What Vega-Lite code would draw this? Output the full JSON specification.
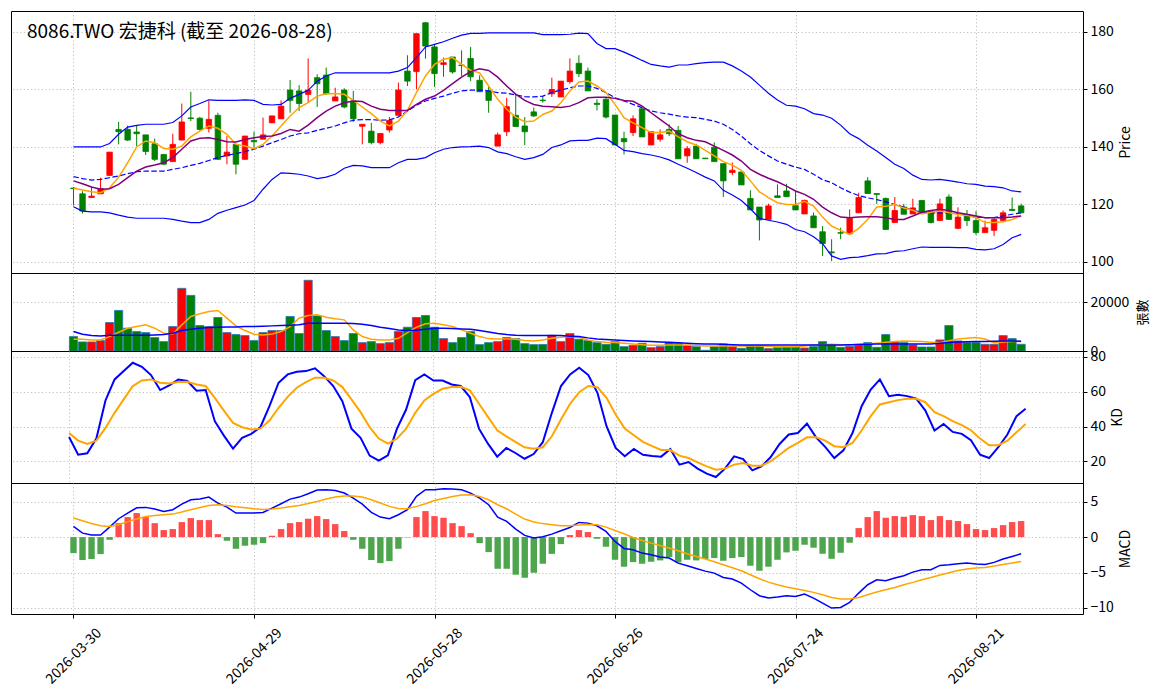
{
  "$schema": "https://vega.github.io/schema/vega-lite/v6.json",
  "background": "white",
  "padding": {"left": 10, "top": 10, "right": 0, "bottom": 0},
  "spacing": 0,
  "bounds": "flush",
  "datasets": {
    "d": [
      {"i":0,"o":125.6,"h":126.0,"l":119.5,"c":125.4,"m5":125.5,"m10":128.1,"m20":129.6,"bu":139.9,"bl":119.1,"v":5930,"v5":4830,"v20":8000,"k":34.0,"d":36.3,"dif":1.50,"sig":2.68,"osc":-2.26},
      {"i":1,"o":123.6,"h":124.5,"l":116.8,"c":117.6,"m5":124.9,"m10":127.1,"m20":128.9,"bu":139.9,"bl":117.6,"v":3720,"v5":4830,"v20":6900,"k":23.8,"d":31.9,"dif":0.56,"sig":2.30,"osc":-3.24},
      {"i":2,"o":122.3,"h":126.0,"l":122.3,"c":122.8,"m5":124.3,"m10":126.0,"m20":128.4,"bu":139.9,"bl":117.3,"v":3720,"v5":4550,"v20":6340,"k":24.6,"d":30.0,"dif":0.28,"sig":1.93,"osc":-3.10},
      {"i":3,"o":123.6,"h":129.2,"l":123.6,"c":125.4,"m5":124.0,"m10":125.2,"m20":128.6,"bu":139.9,"bl":117.3,"v":4280,"v5":4550,"v20":6200,"k":33.1,"d":31.9,"dif":0.28,"sig":1.60,"osc":-2.40},
      {"i":4,"o":130.0,"h":138.1,"l":130.0,"c":138.1,"m5":125.7,"m10":125.4,"m20":129.2,"bu":141.1,"bl":117.0,"v":11720,"v5":5930,"v20":6480,"k":55.0,"d":39.2,"dif":1.41,"sig":1.50,"osc":-0.38},
      {"i":5,"o":146.0,"h":148.6,"l":140.8,"c":145.2,"m5":129.4,"m10":126.9,"m20":129.8,"bu":144.3,"bl":116.2,"v":16690,"v5":7720,"v20":6480,"k":67.1,"d":47.9,"dif":2.59,"sig":1.74,"osc":1.97},
      {"i":6,"o":146.0,"h":147.3,"l":142.0,"c":142.3,"m5":134.4,"m10":129.2,"m20":130.6,"bu":146.8,"bl":115.5,"v":9380,"v5":9380,"v20":6480,"k":71.9,"d":55.6,"dif":3.39,"sig":2.16,"osc":2.82},
      {"i":7,"o":145.1,"h":147.2,"l":140.2,"c":144.5,"m5":139.9,"m10":131.5,"m20":131.3,"bu":147.4,"bl":115.1,"v":8000,"v5":10070,"v20":6480,"k":76.7,"d":63.3,"dif":4.14,"sig":2.54,"osc":3.39},
      {"i":8,"o":144.1,"h":144.1,"l":137.1,"c":138.3,"m5":142.0,"m10":132.9,"m20":131.5,"bu":147.8,"bl":115.1,"v":7580,"v5":10760,"v20":6480,"k":74.4,"d":66.5,"dif":4.19,"sig":2.91,"osc":2.82},
      {"i":9,"o":141.0,"h":142.8,"l":135.0,"c":135.6,"m5":141.4,"m10":133.6,"m20":131.5,"bu":147.8,"bl":115.1,"v":5520,"v5":9380,"v20":6620,"k":69.6,"d":67.1,"dif":3.95,"sig":3.06,"osc":1.97},
      {"i":10,"o":137.3,"h":137.3,"l":133.7,"c":133.9,"m5":139.4,"m10":134.4,"m20":131.5,"bu":147.8,"bl":115.1,"v":3860,"v5":7310,"v20":6760,"k":61.0,"d":65.2,"dif":3.62,"sig":3.15,"osc":0.99},
      {"i":11,"o":134.8,"h":144.5,"l":134.8,"c":140.8,"m5":139.1,"m10":136.2,"m20":132.1,"bu":148.4,"bl":114.7,"v":10070,"v5":7030,"v20":7310,"k":63.7,"d":64.8,"dif":3.86,"sig":3.24,"osc":1.13},
      {"i":12,"o":142.3,"h":155.0,"l":142.3,"c":148.6,"m5":140.2,"m10":139.1,"m20":132.7,"bu":150.7,"bl":114.1,"v":25790,"v5":10760,"v20":8410,"k":67.1,"d":65.6,"dif":4.65,"sig":3.53,"osc":2.12},
      {"i":13,"o":150.0,"h":159.1,"l":148.9,"c":149.8,"m5":143.4,"m10":142.0,"m20":133.5,"bu":153.8,"bl":113.6,"v":22890,"v5":14200,"v20":8960,"k":66.2,"d":65.8,"dif":5.27,"sig":3.86,"osc":2.68},
      {"i":14,"o":149.9,"h":150.4,"l":145.6,"c":146.0,"m5":145.4,"m10":142.9,"m20":134.2,"bu":155.0,"bl":113.6,"v":10480,"v5":15310,"v20":9380,"k":60.6,"d":64.2,"dif":5.36,"sig":4.18,"osc":2.40},
      {"i":15,"o":146.4,"h":156.1,"l":144.9,"c":149.5,"m5":147.2,"m10":143.1,"m20":135.2,"bu":156.3,"bl":114.7,"v":10070,"v5":16270,"v20":9650,"k":61.0,"d":63.3,"dif":5.64,"sig":4.47,"osc":2.40},
      {"i":16,"o":150.9,"h":151.8,"l":135.4,"c":135.6,"m5":146.4,"m10":142.5,"m20":136.2,"bu":156.1,"bl":116.8,"v":13790,"v5":16690,"v20":9790,"k":43.1,"d":56.5,"dif":4.80,"sig":4.56,"osc":0.42},
      {"i":17,"o":136.8,"h":143.7,"l":133.9,"c":138.1,"m5":144.3,"m10":141.7,"m20":137.0,"bu":156.1,"bl":117.9,"v":7580,"v5":13510,"v20":9860,"k":34.8,"d":49.2,"dif":4.23,"sig":4.47,"osc":-0.52},
      {"i":18,"o":140.8,"h":140.8,"l":130.4,"c":133.9,"m5":140.8,"m10":141.6,"m20":137.6,"bu":156.1,"bl":118.8,"v":6760,"v5":10340,"v20":9860,"k":27.3,"d":42.1,"dif":3.39,"sig":4.28,"osc":-1.65},
      {"i":19,"o":135.6,"h":143.7,"l":135.4,"c":143.7,"m5":140.2,"m10":142.5,"m20":138.3,"bu":156.3,"bl":119.7,"v":6340,"v5":8410,"v20":10070,"k":33.5,"d":39.6,"dif":3.39,"sig":4.14,"osc":-1.22},
      {"i":20,"o":142.2,"h":145.2,"l":139.1,"c":141.7,"m5":139.3,"m10":143.1,"m20":139.1,"bu":156.1,"bl":121.3,"v":4280,"v5":6900,"v20":10070,"k":35.8,"d":38.3,"dif":3.39,"sig":4.00,"osc":-1.08},
      {"i":21,"o":142.6,"h":150.1,"l":142.6,"c":144.1,"m5":140.8,"m10":143.5,"m20":140.2,"bu":154.7,"bl":125.2,"v":7580,"v5":6620,"v20":10200,"k":39.6,"d":38.8,"dif":3.48,"sig":3.90,"osc":-0.85},
      {"i":22,"o":148.3,"h":150.7,"l":148.3,"c":150.7,"m5":143.7,"m10":143.7,"m20":141.4,"bu":154.5,"bl":128.6,"v":8410,"v5":7030,"v20":10340,"k":51.7,"d":43.5,"dif":4.09,"sig":3.95,"osc":0.19},
      {"i":23,"o":149.7,"h":156.1,"l":149.7,"c":154.1,"m5":147.2,"m10":144.6,"m20":142.5,"bu":154.7,"bl":130.9,"v":8410,"v5":8000,"v20":10480,"k":65.2,"d":50.8,"dif":4.70,"sig":4.09,"osc":1.13},
      {"i":24,"o":159.7,"h":163.2,"l":151.8,"c":156.1,"m5":150.7,"m10":146.0,"m20":143.7,"bu":156.8,"bl":130.7,"v":14200,"v5":10070,"v20":10620,"k":70.0,"d":57.1,"dif":5.36,"sig":4.28,"osc":1.97},
      {"i":25,"o":159.4,"h":161.4,"l":152.4,"c":155.0,"m5":153.6,"m10":145.4,"m20":144.5,"bu":158.2,"bl":130.4,"v":7170,"v5":13510,"v20":10760,"k":71.5,"d":62.3,"dif":5.64,"sig":4.47,"osc":2.12},
      {"i":26,"o":158.2,"h":170.7,"l":155.3,"c":159.7,"m5":155.3,"m10":147.5,"m20":144.8,"bu":159.6,"bl":129.8,"v":29100,"v5":14620,"v20":11450,"k":71.9,"d":65.6,"dif":6.11,"sig":4.75,"osc":2.59},
      {"i":27,"o":164.0,"h":165.2,"l":153.8,"c":161.9,"m5":157.6,"m10":150.1,"m20":145.7,"bu":162.8,"bl":128.9,"v":14480,"v5":14890,"v20":11450,"k":73.5,"d":68.1,"dif":6.63,"sig":5.03,"osc":2.96},
      {"i":28,"o":164.9,"h":167.5,"l":158.0,"c":158.4,"m5":158.4,"m10":152.4,"m20":146.4,"bu":164.6,"bl":129.4,"v":8410,"v5":13930,"v20":11450,"k":69.0,"d":68.1,"dif":6.68,"sig":5.36,"osc":2.54},
      {"i":29,"o":155.9,"h":160.5,"l":155.9,"c":157.3,"m5":158.5,"m10":154.1,"m20":147.2,"bu":165.7,"bl":130.4,"v":5930,"v5":13240,"v20":11450,"k":63.3,"d":66.5,"dif":6.58,"sig":5.64,"osc":1.83},
      {"i":30,"o":159.7,"h":160.3,"l":153.3,"c":153.8,"m5":158.2,"m10":155.3,"m20":148.3,"bu":165.7,"bl":132.5,"v":4280,"v5":12820,"v20":11450,"k":54.6,"d":62.7,"dif":6.21,"sig":5.78,"osc":0.85},
      {"i":31,"o":155.9,"h":159.4,"l":148.6,"c":149.7,"m5":156.1,"m10":155.9,"m20":149.2,"bu":165.7,"bl":133.5,"v":7170,"v5":8690,"v20":11310,"k":38.8,"d":55.6,"dif":5.50,"sig":5.78,"osc":-0.38},
      {"i":32,"o":147.1,"h":147.8,"l":140.8,"c":147.8,"m5":153.8,"m10":155.7,"m20":149.4,"bu":165.7,"bl":133.3,"v":3450,"v5":5930,"v20":11030,"k":33.5,"d":48.3,"dif":4.65,"sig":5.64,"osc":-1.65},
      {"i":33,"o":145.4,"h":148.3,"l":140.8,"c":141.4,"m5":151.5,"m10":154.1,"m20":149.4,"bu":165.7,"bl":132.7,"v":3860,"v5":4830,"v20":10480,"k":23.3,"d":39.6,"dif":3.48,"sig":5.27,"osc":-3.24},
      {"i":34,"o":141.4,"h":144.6,"l":140.8,"c":144.6,"m5":148.9,"m10":153.0,"m20":149.2,"bu":165.7,"bl":132.7,"v":3030,"v5":4550,"v20":9790,"k":20.4,"d":33.1,"dif":2.82,"sig":4.80,"osc":-3.67},
      {"i":35,"o":145.8,"h":150.3,"l":144.9,"c":149.1,"m5":147.2,"m10":152.6,"m20":149.3,"bu":165.7,"bl":132.7,"v":3450,"v5":4550,"v20":9240,"k":23.5,"d":30.2,"dif":2.59,"sig":4.33,"osc":-3.39},
      {"i":36,"o":150.9,"h":162.3,"l":150.9,"c":159.7,"m5":148.9,"m10":152.6,"m20":150.3,"bu":166.3,"bl":134.4,"v":8000,"v5":5240,"v20":8690,"k":38.8,"d":33.1,"dif":3.15,"sig":4.04,"osc":-1.65},
      {"i":37,"o":166.3,"h":171.8,"l":161.1,"c":162.8,"m5":152.6,"m10":152.6,"m20":152.4,"bu":167.5,"bl":135.6,"v":9790,"v5":7580,"v20":8410,"k":49.8,"d":38.8,"dif":3.86,"sig":4.00,"osc":-0.05},
      {"i":38,"o":166.1,"h":179.3,"l":160.0,"c":179.3,"m5":158.8,"m10":154.7,"m20":154.4,"bu":171.0,"bl":135.6,"v":13790,"v5":9790,"v20":8550,"k":66.7,"d":47.9,"dif":5.74,"sig":4.33,"osc":2.82},
      {"i":39,"o":183.1,"h":183.4,"l":170.6,"c":175.0,"m5":164.6,"m10":156.5,"m20":155.9,"bu":174.7,"bl":136.2,"v":14620,"v5":11170,"v20":8960,"k":70.0,"d":55.0,"dif":6.68,"sig":4.70,"osc":3.67},
      {"i":40,"o":174.7,"h":175.6,"l":160.8,"c":165.4,"m5":168.6,"m10":157.6,"m20":156.8,"bu":175.6,"bl":137.9,"v":9790,"v5":11450,"v20":9380,"k":66.5,"d":58.8,"dif":6.68,"sig":5.17,"osc":2.96},
      {"i":41,"o":168.6,"h":171.0,"l":164.3,"c":169.2,"m5":170.4,"m10":159.6,"m20":157.6,"bu":176.5,"bl":139.1,"v":5100,"v5":10760,"v20":9380,"k":66.5,"d":61.7,"dif":6.82,"sig":5.45,"osc":2.73},
      {"i":42,"o":171.2,"h":171.2,"l":165.4,"c":166.0,"m5":171.0,"m10":161.9,"m20":158.6,"bu":177.7,"bl":139.7,"v":3450,"v5":10070,"v20":9240,"k":64.2,"d":62.7,"dif":6.77,"sig":5.74,"osc":1.97},
      {"i":43,"o":168.4,"h":173.5,"l":164.6,"c":168.2,"m5":168.6,"m10":164.2,"m20":159.4,"bu":178.8,"bl":139.9,"v":5520,"v5":8690,"v20":9100,"k":63.3,"d":62.9,"dif":6.68,"sig":5.92,"osc":1.55},
      {"i":44,"o":170.7,"h":174.7,"l":162.8,"c":164.3,"m5":166.6,"m10":166.1,"m20":159.7,"bu":179.4,"bl":140.0,"v":8000,"v5":7310,"v20":8960,"k":56.9,"d":60.8,"dif":6.21,"sig":5.97,"osc":0.56},
      {"i":45,"o":163.1,"h":164.8,"l":159.1,"c":159.1,"m5":165.7,"m10":167.1,"m20":159.7,"bu":179.4,"bl":140.2,"v":2620,"v5":5930,"v20":8410,"k":38.8,"d":53.1,"dif":5.50,"sig":5.74,"osc":-0.85},
      {"i":46,"o":159.4,"h":160.8,"l":151.8,"c":156.1,"m5":161.1,"m10":166.5,"m20":159.4,"bu":179.6,"bl":139.7,"v":3450,"v5":5100,"v20":7860,"k":30.0,"d":45.4,"dif":4.56,"sig":5.27,"osc":-2.12},
      {"i":47,"o":140.2,"h":144.9,"l":140.2,"c":144.1,"m5":156.5,"m10":164.2,"m20":158.8,"bu":179.6,"bl":138.2,"v":3860,"v5":4960,"v20":7170,"k":22.7,"d":37.9,"dif":2.82,"sig":4.56,"osc":-4.47},
      {"i":48,"o":145.2,"h":157.0,"l":143.7,"c":153.9,"m5":153.0,"m10":161.1,"m20":158.6,"bu":179.6,"bl":137.6,"v":5520,"v5":4960,"v20":6760,"k":27.7,"d":34.4,"dif":2.21,"sig":4.00,"osc":-4.47},
      {"i":49,"o":150.9,"h":158.4,"l":147.0,"c":147.0,"m5":150.3,"m10":158.3,"m20":158.0,"bu":179.6,"bl":136.5,"v":5100,"v5":4830,"v20":6480,"k":24.8,"d":31.2,"dif":1.13,"sig":3.24,"osc":-5.31},
      {"i":50,"o":147.2,"h":150.3,"l":140.5,"c":145.2,"m5":148.7,"m10":156.1,"m20":157.4,"bu":179.6,"bl":135.6,"v":3030,"v5":4280,"v20":6340,"k":21.5,"d":28.1,"dif":0.24,"sig":2.54,"osc":-5.74},
      {"i":51,"o":152.1,"h":153.6,"l":150.3,"c":150.7,"m5":148.9,"m10":154.7,"m20":157.3,"bu":179.6,"bl":136.2,"v":2620,"v5":4140,"v20":6340,"k":24.2,"d":27.3,"dif":-0.14,"sig":2.12,"osc":-5.03},
      {"i":52,"o":156.2,"h":157.6,"l":155.3,"c":156.0,"m5":151.2,"m10":154.1,"m20":157.6,"bu":179.0,"bl":137.3,"v":2690,"v5":4550,"v20":6340,"k":31.0,"d":28.1,"dif":0.05,"sig":1.90,"osc":-3.76},
      {"i":53,"o":158.4,"h":164.0,"l":157.3,"c":159.9,"m5":152.4,"m10":153.9,"m20":158.8,"bu":179.0,"bl":139.7,"v":6480,"v5":5240,"v20":6340,"k":47.9,"d":34.4,"dif":0.42,"sig":1.74,"osc":-2.37},
      {"i":54,"o":157.3,"h":162.8,"l":157.3,"c":162.8,"m5":155.3,"m10":153.6,"m20":159.7,"bu":179.0,"bl":140.6,"v":3860,"v5":5650,"v20":6340,"k":63.3,"d":44.0,"dif":0.89,"sig":1.60,"osc":-0.99},
      {"i":55,"o":162.6,"h":170.7,"l":161.9,"c":166.3,"m5":159.4,"m10":154.1,"m20":160.5,"bu":179.1,"bl":142.0,"v":7170,"v5":5930,"v20":6100,"k":70.0,"d":53.1,"dif":1.36,"sig":1.60,"osc":0.28},
      {"i":56,"o":169.0,"h":171.8,"l":164.2,"c":165.4,"m5":162.5,"m10":155.3,"m20":161.1,"bu":179.5,"bl":142.2,"v":4830,"v5":5650,"v20":5930,"k":73.8,"d":59.8,"dif":2.07,"sig":1.69,"osc":0.99},
      {"i":57,"o":166.3,"h":167.5,"l":159.4,"c":159.4,"m5":162.8,"m10":157.0,"m20":161.1,"bu":179.3,"bl":142.2,"v":4280,"v5":4550,"v20":5400,"k":69.6,"d":63.3,"dif":1.97,"sig":1.79,"osc":0.71},
      {"i":58,"o":155.1,"h":156.5,"l":152.6,"c":154.7,"m5":161.1,"m10":157.2,"m20":160.3,"bu":175.9,"bl":143.0,"v":3450,"v5":3860,"v20":4960,"k":59.4,"d":62.7,"dif":1.60,"sig":1.74,"osc":-0.24},
      {"i":59,"o":156.5,"h":157.3,"l":149.8,"c":150.3,"m5":158.8,"m10":157.2,"m20":158.8,"bu":174.1,"bl":142.8,"v":2760,"v5":3590,"v20":4750,"k":40.2,"d":56.5,"dif":0.80,"sig":1.41,"osc":-1.36},
      {"i":60,"o":151.0,"h":151.0,"l":140.6,"c":140.6,"m5":154.7,"m10":156.8,"m20":157.0,"bu":174.1,"bl":140.8,"v":3860,"v5":3450,"v20":4550,"k":27.7,"d":46.9,"dif":-0.61,"sig":0.94,"osc":-3.20},
      {"i":61,"o":142.8,"h":145.2,"l":137.3,"c":141.7,"m5":150.1,"m10":156.1,"m20":155.9,"bu":172.9,"bl":138.7,"v":1790,"v5":3170,"v20":4350,"k":22.9,"d":38.8,"dif":-1.60,"sig":0.47,"osc":-4.18},
      {"i":62,"o":144.9,"h":150.9,"l":143.7,"c":149.7,"m5":148.3,"m10":155.8,"m20":154.7,"bu":171.5,"bl":138.3,"v":2340,"v5":2900,"v20":4140,"k":27.1,"d":35.0,"dif":-1.79,"sig":-0.05,"osc":-3.53},
      {"i":63,"o":153.2,"h":153.2,"l":143.4,"c":143.4,"m5":146.6,"m10":154.1,"m20":153.6,"bu":170.0,"bl":137.6,"v":3170,"v5":2620,"v20":4000,"k":23.8,"d":31.2,"dif":-2.26,"sig":-0.47,"osc":-3.76},
      {"i":64,"o":140.6,"h":145.2,"l":140.6,"c":145.2,"m5":144.9,"m10":151.8,"m20":152.4,"bu":168.6,"bl":137.1,"v":1380,"v5":2340,"v20":3860,"k":23.1,"d":28.7,"dif":-2.49,"sig":-0.85,"osc":-3.48},
      {"i":65,"o":142.6,"h":146.0,"l":141.7,"c":144.1,"m5":144.9,"m10":149.5,"m20":151.8,"bu":168.1,"bl":136.4,"v":1790,"v5":2400,"v20":3720,"k":22.7,"d":26.5,"dif":-2.82,"sig":-1.18,"osc":-3.29},
      {"i":66,"o":146.0,"h":147.8,"l":143.7,"c":144.5,"m5":145.4,"m10":147.2,"m20":151.3,"bu":167.7,"bl":135.4,"v":3450,"v5":2480,"v20":3590,"k":27.1,"d":26.5,"dif":-2.96,"sig":-1.55,"osc":-2.82},
      {"i":67,"o":145.7,"h":147.2,"l":135.8,"c":135.8,"m5":143.4,"m10":144.5,"m20":150.7,"bu":168.4,"bl":133.9,"v":3170,"v5":2480,"v20":3380,"k":18.1,"d":23.3,"dif":-3.67,"sig":-1.93,"osc":-3.57},
      {"i":68,"o":136.8,"h":140.2,"l":134.4,"c":139.3,"m5":141.7,"m10":143.1,"m20":150.3,"bu":168.4,"bl":132.5,"v":2340,"v5":2480,"v20":3170,"k":19.6,"d":21.9,"dif":-4.04,"sig":-2.35,"osc":-3.20},
      {"i":69,"o":140.2,"h":141.0,"l":135.8,"c":135.8,"m5":140.6,"m10":142.2,"m20":150.1,"bu":168.9,"bl":131.0,"v":1790,"v5":2280,"v20":3030,"k":15.8,"d":19.4,"dif":-4.42,"sig":-2.73,"osc":-3.29},
      {"i":70,"o":136.0,"h":136.1,"l":135.7,"c":135.8,"m5":138.7,"m10":141.7,"m20":149.5,"bu":169.2,"bl":129.4,"v":300,"v5":2070,"v20":2900,"k":12.9,"d":17.1,"dif":-4.80,"sig":-3.10,"osc":-3.10},
      {"i":71,"o":139.8,"h":141.5,"l":134.8,"c":134.8,"m5":136.8,"m10":140.2,"m20":148.9,"bu":169.4,"bl":128.1,"v":1790,"v5":2070,"v20":2830,"k":11.0,"d":15.2,"dif":-5.08,"sig":-3.48,"osc":-2.96},
      {"i":72,"o":134.1,"h":134.1,"l":122.5,"c":128.1,"m5":134.8,"m10":138.7,"m20":147.8,"bu":169.4,"bl":124.8,"v":2900,"v5":2070,"v20":2760,"k":15.8,"d":15.8,"dif":-5.69,"sig":-3.90,"osc":-3.34},
      {"i":73,"o":131.0,"h":134.5,"l":130.1,"c":131.8,"m5":133.6,"m10":137.1,"m20":146.0,"bu":168.1,"bl":123.2,"v":1790,"v5":2070,"v20":2620,"k":22.9,"d":18.1,"dif":-5.92,"sig":-4.33,"osc":-2.96},
      {"i":74,"o":131.2,"h":131.2,"l":126.7,"c":126.7,"m5":131.8,"m10":135.0,"m20":143.7,"bu":166.3,"bl":121.3,"v":1100,"v5":2070,"v20":2480,"k":21.3,"d":19.0,"dif":-6.49,"sig":-4.75,"osc":-2.82},
      {"i":75,"o":122.0,"h":124.8,"l":118.0,"c":118.0,"m5":128.1,"m10":132.1,"m20":141.0,"bu":164.2,"bl":118.4,"v":2070,"v5":2070,"v20":2480,"k":14.8,"d":17.5,"dif":-7.43,"sig":-5.31,"osc":-4.04},
      {"i":76,"o":119.0,"h":119.0,"l":107.4,"c":114.5,"m5":124.3,"m10":130.4,"m20":138.7,"bu":161.4,"bl":115.1,"v":2070,"v5":2070,"v20":2480,"k":17.1,"d":17.5,"dif":-8.27,"sig":-5.88,"osc":-4.75},
      {"i":77,"o":114.7,"h":120.2,"l":114.7,"c":119.4,"m5":122.3,"m10":129.0,"m20":136.8,"bu":158.6,"bl":114.4,"v":970,"v5":1930,"v20":2480,"k":22.3,"d":20.0,"dif":-8.60,"sig":-6.35,"osc":-4.18},
      {"i":78,"o":122.9,"h":126.9,"l":122.3,"c":122.3,"m5":120.5,"m10":127.8,"m20":135.0,"bu":156.2,"bl":113.8,"v":1380,"v5":1790,"v20":2480,"k":30.0,"d":23.8,"dif":-8.46,"sig":-6.72,"osc":-3.20},
      {"i":79,"o":124.6,"h":127.1,"l":122.6,"c":122.6,"m5":119.9,"m10":126.3,"m20":133.9,"bu":154.4,"bl":113.0,"v":1650,"v5":1790,"v20":2480,"k":35.4,"d":27.7,"dif":-8.27,"sig":-7.05,"osc":-2.16},
      {"i":80,"o":119.5,"h":124.6,"l":118.0,"c":118.0,"m5":119.9,"m10":124.6,"m20":132.9,"bu":154.1,"bl":111.2,"v":1650,"v5":1790,"v20":2480,"k":36.3,"d":30.6,"dif":-8.37,"sig":-7.29,"osc":-1.93},
      {"i":81,"o":116.6,"h":121.6,"l":116.6,"c":121.3,"m5":121.0,"m10":123.4,"m20":132.1,"bu":153.2,"bl":110.4,"v":1240,"v5":2100,"v20":2480,"k":41.7,"d":33.8,"dif":-8.04,"sig":-7.52,"osc":-1.08},
      {"i":82,"o":115.9,"h":117.1,"l":111.8,"c":111.8,"m5":119.3,"m10":121.7,"m20":130.4,"bu":151.5,"bl":108.7,"v":1790,"v5":2480,"v20":2480,"k":33.8,"d":33.8,"dif":-8.60,"sig":-7.80,"osc":-1.50},
      {"i":83,"o":110.4,"h":112.4,"l":102.0,"c":106.3,"m5":115.5,"m10":119.0,"m20":128.5,"bu":151.0,"bl":106.3,"v":3860,"v5":2620,"v20":2480,"k":28.3,"d":31.9,"dif":-9.31,"sig":-8.13,"osc":-2.35},
      {"i":84,"o":103.4,"h":107.8,"l":100.2,"c":103.1,"m5":112.4,"m10":117.0,"m20":127.5,"bu":149.9,"bl":102.0,"v":2620,"v5":2760,"v20":2480,"k":21.9,"d":28.7,"dif":-10.01,"sig":-8.51,"osc":-3.06},
      {"i":85,"o":110.1,"h":111.8,"l":107.8,"c":109.9,"m5":110.9,"m10":115.5,"m20":125.7,"bu":147.5,"bl":100.8,"v":1520,"v5":2620,"v20":2480,"k":26.3,"d":28.1,"dif":-9.92,"sig":-8.74,"osc":-2.21},
      {"i":86,"o":109.7,"h":118.2,"l":109.7,"c":115.1,"m5":109.5,"m10":115.3,"m20":124.2,"bu":144.5,"bl":101.4,"v":1930,"v5":2480,"v20":2620,"k":36.3,"d":30.6,"dif":-9.21,"sig":-8.74,"osc":-0.80},
      {"i":87,"o":117.0,"h":124.0,"l":117.0,"c":122.3,"m5":111.6,"m10":115.5,"m20":123.0,"bu":142.8,"bl":101.6,"v":2760,"v5":2700,"v20":2690,"k":51.7,"d":37.7,"dif":-7.90,"sig":-8.51,"osc":1.27},
      {"i":88,"o":128.1,"h":129.4,"l":123.7,"c":123.7,"m5":114.7,"m10":115.6,"m20":122.2,"bu":140.5,"bl":102.1,"v":3450,"v5":2900,"v20":2760,"k":61.3,"d":46.0,"dif":-6.72,"sig":-8.13,"osc":2.82},
      {"i":89,"o":123.7,"h":123.8,"l":120.1,"c":123.4,"m5":119.0,"m10":115.6,"m20":121.6,"bu":138.5,"bl":102.7,"v":1520,"v5":3240,"v20":2830,"k":67.1,"d":52.7,"dif":-6.02,"sig":-7.76,"osc":3.67},
      {"i":90,"o":122.0,"h":122.3,"l":111.2,"c":111.2,"m5":119.3,"m10":115.3,"m20":120.8,"bu":136.2,"bl":102.8,"v":6760,"v5":3590,"v20":2900,"k":57.5,"d":54.0,"dif":-6.16,"sig":-7.43,"osc":2.73},
      {"i":91,"o":113.6,"h":122.5,"l":113.6,"c":117.8,"m5":119.9,"m10":114.7,"m20":119.9,"bu":133.9,"bl":103.6,"v":3860,"v5":3860,"v20":2900,"k":58.3,"d":55.2,"dif":-5.78,"sig":-7.10,"osc":2.96},
      {"i":92,"o":119.0,"h":120.1,"l":116.5,"c":116.5,"m5":118.7,"m10":114.7,"m20":119.0,"bu":132.4,"bl":103.8,"v":3450,"v5":4140,"v20":2900,"k":57.5,"d":56.0,"dif":-5.45,"sig":-6.72,"osc":2.87},
      {"i":93,"o":116.6,"h":121.9,"l":116.6,"c":118.7,"m5":117.9,"m10":115.9,"m20":117.8,"bu":130.1,"bl":104.5,"v":2480,"v5":4000,"v20":2900,"k":56.0,"d":56.0,"dif":-4.94,"sig":-6.39,"osc":3.10},
      {"i":94,"o":121.3,"h":121.3,"l":117.2,"c":117.2,"m5":116.6,"m10":117.2,"m20":117.3,"bu":128.6,"bl":105.1,"v":1650,"v5":3860,"v20":2900,"k":49.2,"d":54.0,"dif":-4.61,"sig":-6.02,"osc":2.96},
      {"i":95,"o":117.8,"h":117.8,"l":113.3,"c":113.6,"m5":117.2,"m10":117.8,"m20":117.0,"bu":128.4,"bl":105.0,"v":1650,"v5":3650,"v20":2900,"k":37.7,"d":48.3,"dif":-4.61,"sig":-5.69,"osc":2.40},
      {"i":96,"o":114.3,"h":121.9,"l":114.3,"c":120.1,"m5":117.6,"m10":118.2,"m20":117.0,"bu":128.6,"bl":105.0,"v":4550,"v5":3450,"v20":3170,"k":41.5,"d":46.0,"dif":-4.00,"sig":-5.36,"osc":2.96},
      {"i":97,"o":122.5,"h":123.4,"l":114.7,"c":114.7,"m5":117.0,"m10":117.8,"m20":116.8,"bu":128.2,"bl":105.0,"v":10480,"v5":4200,"v20":3450,"k":36.9,"d":43.1,"dif":-3.90,"sig":-5.03,"osc":2.40},
      {"i":98,"o":111.6,"h":118.9,"l":111.3,"c":115.5,"m5":116.5,"m10":117.0,"m20":116.7,"bu":127.7,"bl":104.9,"v":4140,"v5":4960,"v20":3720,"k":35.8,"d":40.8,"dif":-3.76,"sig":-4.70,"osc":2.26},
      {"i":99,"o":116.2,"h":118.0,"l":112.4,"c":114.3,"m5":116.1,"m10":116.5,"m20":116.2,"bu":127.1,"bl":104.9,"v":3450,"v5":5240,"v20":3790,"k":32.1,"d":37.9,"dif":-3.67,"sig":-4.51,"osc":1.83},
      {"i":100,"o":114.3,"h":117.6,"l":109.3,"c":110.1,"m5":115.3,"m10":115.9,"m20":115.5,"bu":126.9,"bl":104.3,"v":3450,"v5":5520,"v20":3860,"k":23.8,"d":33.1,"dif":-3.81,"sig":-4.37,"osc":1.13},
      {"i":101,"o":110.1,"h":114.3,"l":110.1,"c":111.8,"m5":113.6,"m10":115.3,"m20":115.3,"bu":126.3,"bl":104.1,"v":2760,"v5":4960,"v20":3930,"k":21.9,"d":29.2,"dif":-3.86,"sig":-4.28,"osc":0.99},
      {"i":102,"o":110.9,"h":115.1,"l":108.9,"c":114.7,"m5":113.6,"m10":115.3,"m20":115.3,"bu":126.1,"bl":104.5,"v":2760,"v5":3450,"v20":4000,"k":28.1,"d":29.2,"dif":-3.57,"sig":-4.09,"osc":1.27},
      {"i":103,"o":114.3,"h":117.8,"l":114.3,"c":117.0,"m5":113.9,"m10":115.3,"m20":115.9,"bu":125.7,"bl":106.0,"v":6340,"v5":3720,"v20":4070,"k":35.4,"d":31.9,"dif":-3.10,"sig":-3.86,"osc":1.69},
      {"i":104,"o":118.2,"h":122.3,"l":117.6,"c":117.8,"m5":114.7,"m10":115.5,"m20":116.5,"bu":124.6,"bl":108.3,"v":5100,"v5":3860,"v20":4140,"k":46.0,"d":36.7,"dif":-2.73,"sig":-3.67,"osc":2.12},
      {"i":105,"o":119.4,"h":120.2,"l":117.0,"c":117.0,"m5":115.9,"m10":115.9,"m20":117.0,"bu":124.3,"bl":109.5,"v":2760,"v5":3860,"v20":4000,"k":50.2,"d":41.5,"dif":-2.35,"sig":-3.43,"osc":2.26}
    ]
  },
  "data": {"name": "d"},
  "vconcat": [
    {
      "width": 1072,
      "height": 262,
      "title": {"text": "8086.TWO 宏捷科 (截至 2026-08-28)", "anchor": "start", "frame": "group", "orient": "top", "offset": -31, "dx": 16, "fontSize": 19, "fontWeight": "normal", "color": "black"},
      "encoding": {
        "x": {"field": "i", "type": "quantitative", "scale": {"domain": [-6.37, 111.3], "nice": false, "zero": false},
              "axis": {"values": [0, 20, 40, 60, 80, 100], "labels": false, "ticks": false, "domain": false, "title": null}}
      },
      "layer": [
        {"mark": {"type": "rule", "strokeWidth": 1},
         "encoding": {
           "y": {"field": "l", "type": "quantitative", "title": "Price", "scale": {"domain": [96.06, 187.19], "nice": false, "zero": false},
                 "axis": {"orient": "right", "values": [100, 120, 140, 160, 180]}},
           "y2": {"field": "h"},
           "color": {"condition": {"test": "datum.c >= datum.o", "value": "#ff0000"}, "value": "#008000"}}},
        {"mark": {"type": "bar", "width": 5.5, "strokeWidth": 0.8},
         "encoding": {
           "y": {"field": "o", "type": "quantitative", "title": "Price"},
           "y2": {"field": "c"},
           "color": {"condition": {"test": "datum.c >= datum.o", "value": "#ff0000"}, "value": "#008000"},
           "stroke": {"condition": {"test": "datum.c >= datum.o", "value": "#ff0000"}, "value": "#008000"}}},
        {"mark": {"type": "line", "color": "#0000ff", "strokeWidth": 1.2},
         "encoding": {"y": {"field": "bu", "type": "quantitative", "title": "Price"}}},
        {"mark": {"type": "line", "color": "#0000ff", "strokeWidth": 1.2},
         "encoding": {"y": {"field": "bl", "type": "quantitative", "title": "Price"}}},
        {"mark": {"type": "line", "color": "#0000ff", "strokeWidth": 1.2, "strokeDash": [5.5, 2.4]},
         "encoding": {"y": {"field": "m20", "type": "quantitative", "title": "Price"}}},
        {"mark": {"type": "line", "color": "#ffa500", "strokeWidth": 1.5},
         "encoding": {"y": {"field": "m5", "type": "quantitative", "title": "Price"}}},
        {"mark": {"type": "line", "color": "#800080", "strokeWidth": 1.5},
         "encoding": {"y": {"field": "m10", "type": "quantitative", "title": "Price"}}}
      ]
    },
    {
      "width": 1072,
      "height": 78,
      "encoding": {
        "x": {"field": "i", "type": "quantitative", "scale": {"domain": [-6.37, 111.3], "nice": false, "zero": false},
              "axis": {"values": [0, 20, 40, 60, 80, 100], "labels": false, "ticks": false, "domain": false, "title": null}}
      },
      "layer": [
        {"mark": {"type": "bar", "width": 8.2, "stroke": "#1f77b4", "strokeWidth": 0.8},
         "encoding": {
           "y": {"field": "v", "type": "quantitative", "title": "張數", "scale": {"domain": [0, 32100], "nice": false},
                 "axis": {"orient": "right", "values": [0, 20000], "format": "d", "titleFontSize": 13, "titlePadding": 8}},
           "y2": {"datum": 0},
           "color": {"condition": {"test": "datum.c >= datum.o", "value": "#ff0000"}, "value": "#008000"}}},
        {"mark": {"type": "line", "color": "#ffa500", "strokeWidth": 1.5},
         "encoding": {"y": {"field": "v5", "type": "quantitative", "title": "張數"}}},
        {"mark": {"type": "line", "color": "#0000ff", "strokeWidth": 1.5},
         "encoding": {"y": {"field": "v20", "type": "quantitative", "title": "張數"}}}
      ]
    },
    {
      "width": 1072,
      "height": 132,
      "encoding": {
        "x": {"field": "i", "type": "quantitative", "scale": {"domain": [-6.37, 111.3], "nice": false, "zero": false},
              "axis": {"values": [0, 20, 40, 60, 80, 100], "labels": false, "ticks": false, "domain": false, "title": null}}
      },
      "layer": [
        {"mark": {"type": "line", "color": "#0000ff", "strokeWidth": 2},
         "encoding": {"y": {"field": "k", "type": "quantitative", "title": "KD", "scale": {"domain": [7.54, 83.45], "nice": false, "zero": false},
                            "axis": {"orient": "right", "values": [20, 40, 60, 80]}}}},
        {"mark": {"type": "line", "color": "#ffa500", "strokeWidth": 2},
         "encoding": {"y": {"field": "d", "type": "quantitative", "title": "KD"}}}
      ]
    },
    {
      "width": 1072,
      "height": 131,
      "encoding": {
        "x": {"field": "i", "type": "quantitative", "scale": {"domain": [-6.37, 111.3], "nice": false, "zero": false},
              "axis": {"values": [0, 20, 40, 60, 80, 100], "domain": false, "title": null, "labelAngle": -45, "labelAlign": "center", "labelBaseline": "middle", "labelPadding": 38, "labelFontSize": 14,
                       "labelExpr": "['2026-03-30','2026-04-29','2026-05-28','2026-06-26','2026-07-24','2026-08-21'][round(datum.value / 20)]"}}
      },
      "layer": [
        {"mark": {"type": "bar", "width": 6.4},
         "encoding": {
           "y": {"field": "osc", "type": "quantitative", "title": "MACD", "scale": {"domain": [-10.85, 7.63], "nice": false, "zero": false},
                 "axis": {"orient": "right", "values": [-10, -5, 0, 5]}},
           "y2": {"datum": 0},
           "color": {"condition": {"test": "datum.osc >= 0", "value": "#ff4d4d"}, "value": "#4da64d"}}},
        {"mark": {"type": "rule", "color": "#808080", "strokeWidth": 1, "strokeDash": [3, 2]},
         "encoding": {"y": {"datum": 0}}},
        {"mark": {"type": "line", "color": "#0000ff", "strokeWidth": 1.5},
         "encoding": {"y": {"field": "dif", "type": "quantitative", "title": "MACD"}}},
        {"mark": {"type": "line", "color": "#ffa500", "strokeWidth": 1.5},
         "encoding": {"y": {"field": "sig", "type": "quantitative", "title": "MACD"}}}
      ]
    }
  ],
  "resolve": {"scale": {"y": "independent"}},
  "config": {
    "font": "Noto Sans CJK TC",
    "view": {"stroke": "black", "strokeWidth": 1},
    "axis": {
      "grid": true,
      "gridColor": "#b0b0b0",
      "gridDash": [1.2, 2.4],
      "gridWidth": 0.8,
      "domain": false,
      "tickColor": "black",
      "tickSize": 4,
      "labelColor": "black",
      "labelFontSize": 14,
      "labelPadding": 3,
      "titleColor": "black",
      "titleFontSize": 14,
      "titleFontWeight": "normal",
      "titleAngle": 270,
      "titleBaseline": "top",
      "titlePadding": 5
    },
    "title": {"font": "Noto Sans CJK TC"}
  }
}
